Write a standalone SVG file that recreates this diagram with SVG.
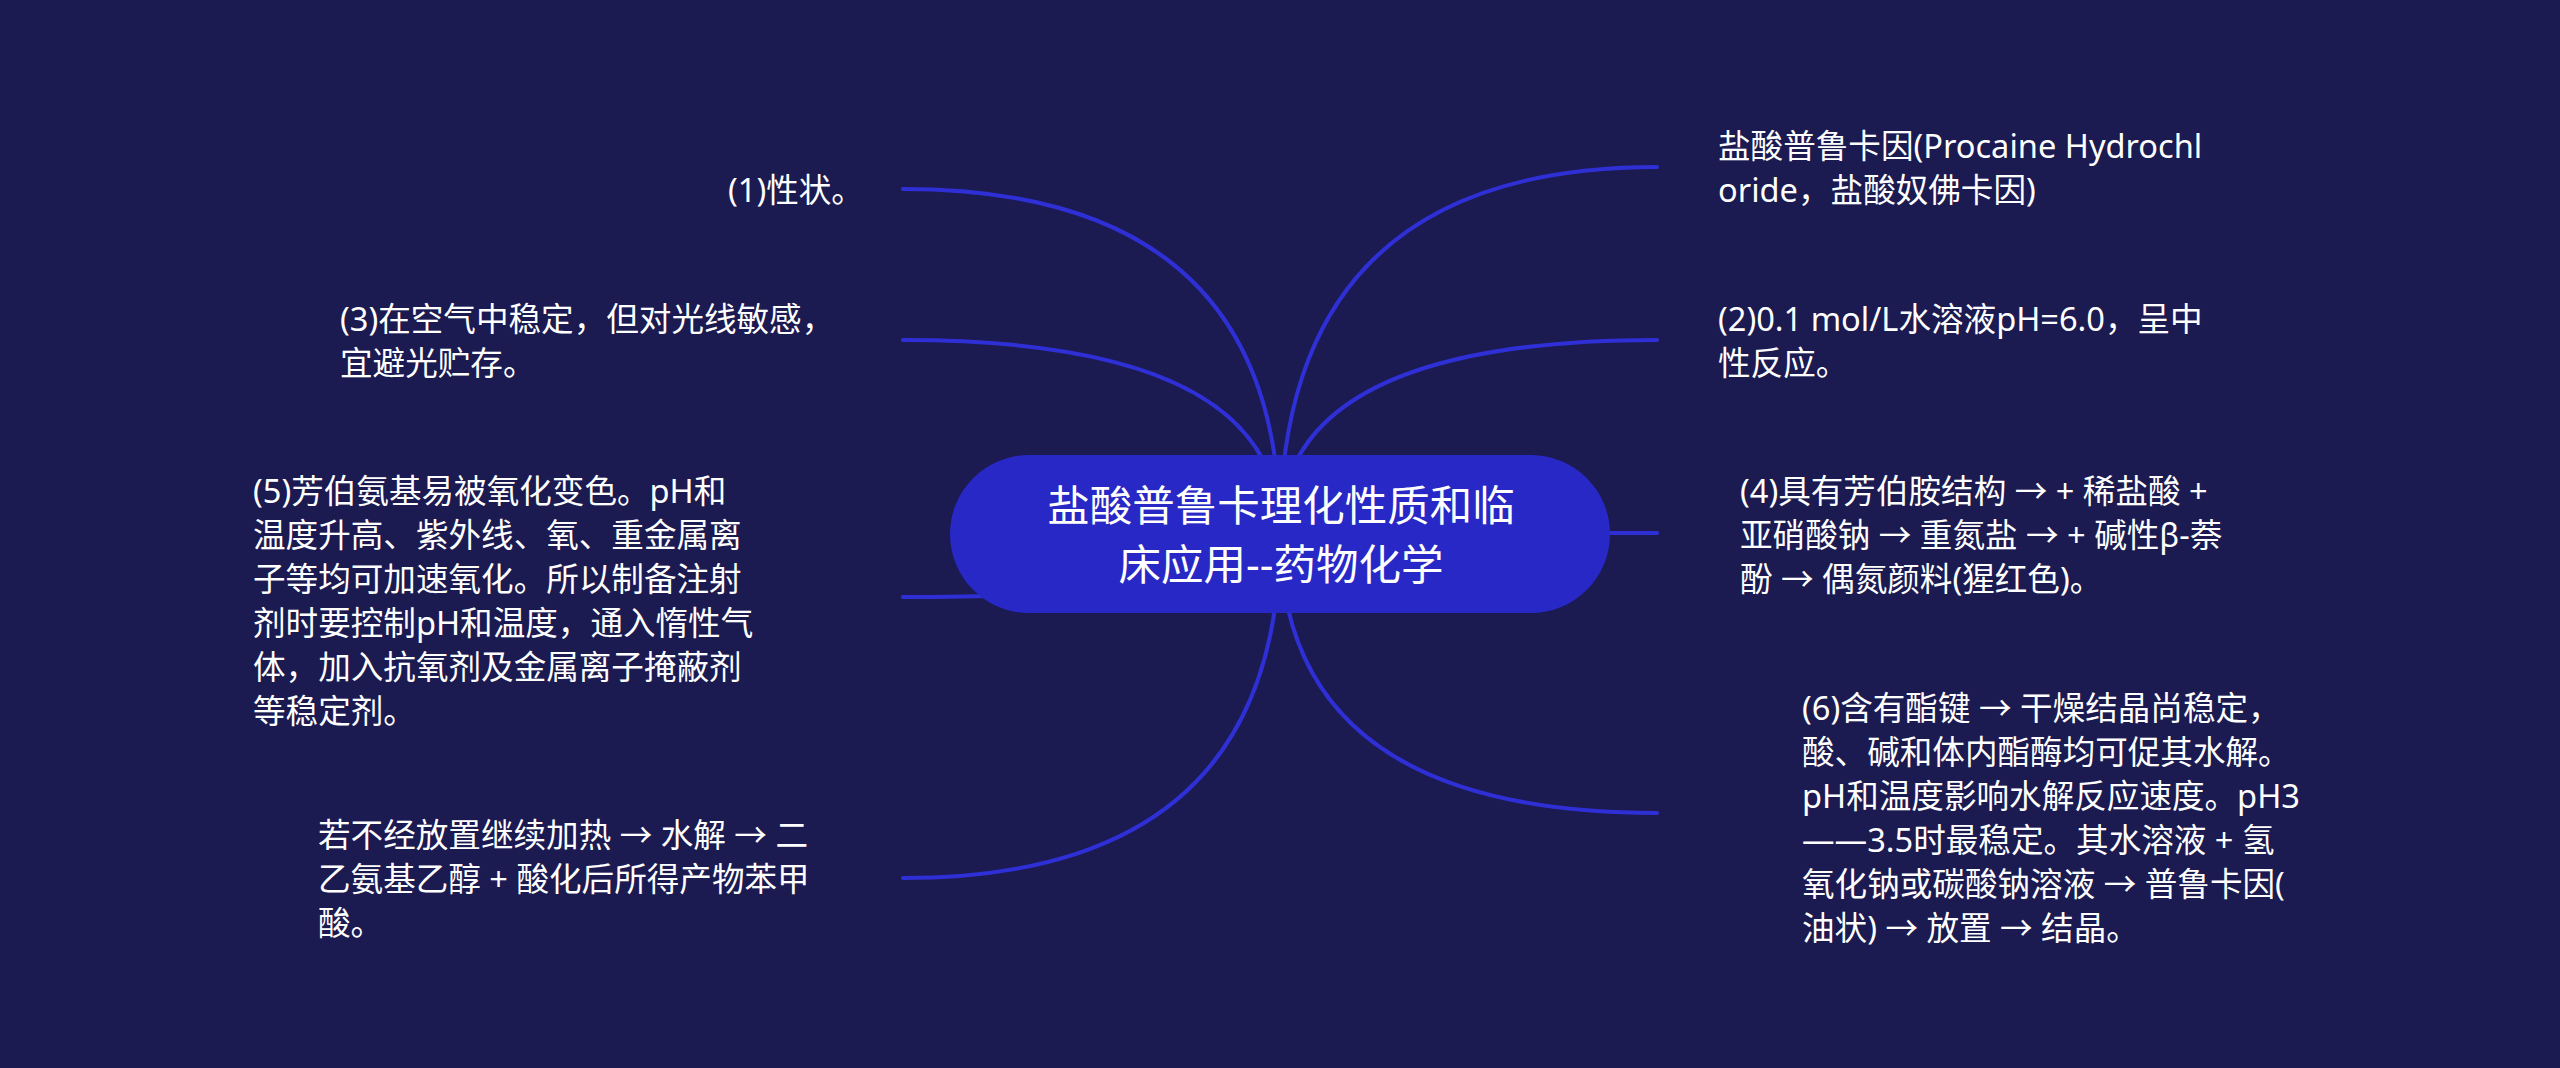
<svg xmlns="http://www.w3.org/2000/svg" width="2560" height="1068" viewBox="0 0 2560 1068">
<style>
.bg{fill:#1b1a51}
.link{fill:none;stroke:#2f2fd6;stroke-width:4;stroke-linecap:round}
.root{fill:#2828c6}
.t{font-family:"Noto Sans","Noto Sans CJK SC",sans-serif;fill:#ffffff;dominant-baseline:central}
.tt{font-size:42.5px;text-anchor:middle}
.tb{font-size:32.6px}
</style>
<rect class="bg" x="0" y="0" width="2560" height="1068"/>
<g id="connectors">
<path class="link" d="M1280 533 Q1280 189 903 189"/>
<path class="link" d="M1280 533 Q1280 340 903 340"/>
<path class="link" d="M1280 533 Q1280 597 903 597"/>
<path class="link" d="M1280 533 Q1280 878 903 878"/>
<path class="link" d="M1280 533 Q1280 167 1657 167"/>
<path class="link" d="M1280 533 Q1280 340 1657 340"/>
<path class="link" d="M1280 533 L1657 533"/>
<path class="link" d="M1280 533 Q1280 813 1657 813"/>
</g>
<g id="root">
<rect class="root" x="950" y="455" width="660" height="158" rx="79" ry="79"/>
<text class="t tt"><tspan x="1281" y="504">盐酸普鲁卡理化性质和临</tspan><tspan x="1281" y="563">床应用--药物化学</tspan></text>
</g>
<g id="node-r1">
<text class="t tb"><tspan x="1718" y="145">盐酸普鲁卡因(Procaine Hydrochl</tspan><tspan x="1718" y="189">oride，盐酸奴佛卡因)</tspan></text>
</g>
<g id="node-r2">
<text class="t tb"><tspan x="1718" y="318">(2)0.1 mol/L水溶液pH=6.0，呈中</tspan><tspan x="1718" y="362">性反应。</tspan></text>
</g>
<g id="node-r3">
<text class="t tb"><tspan x="1740" y="490">(4)具有芳伯胺结构 → + 稀盐酸 +</tspan><tspan x="1740" y="534">亚硝酸钠 → 重氮盐 → + 碱性β-萘</tspan><tspan x="1740" y="578">酚 → 偶氮颜料(猩红色)。</tspan></text>
</g>
<g id="node-r4">
<text class="t tb"><tspan x="1802" y="707">(6)含有酯键 → 干燥结晶尚稳定，</tspan><tspan x="1802" y="751">酸、碱和体内酯酶均可促其水解。</tspan><tspan x="1802" y="795">pH和温度影响水解反应速度。pH3</tspan><tspan x="1802" y="839">——3.5时最稳定。其水溶液 + 氢</tspan><tspan x="1802" y="883">氧化钠或碳酸钠溶液 → 普鲁卡因(</tspan><tspan x="1802" y="927">油状) → 放置 → 结晶。</tspan></text>
</g>
<g id="node-l1">
<text class="t tb"><tspan x="728" y="189">(1)性状。</tspan></text>
</g>
<g id="node-l2">
<text class="t tb"><tspan x="340" y="318">(3)在空气中稳定，但对光线敏感，</tspan><tspan x="340" y="362">宜避光贮存。</tspan></text>
</g>
<g id="node-l3">
<text class="t tb"><tspan x="253" y="490">(5)芳伯氨基易被氧化变色。pH和</tspan><tspan x="253" y="534">温度升高、紫外线、氧、重金属离</tspan><tspan x="253" y="578">子等均可加速氧化。所以制备注射</tspan><tspan x="253" y="622">剂时要控制pH和温度，通入惰性气</tspan><tspan x="253" y="666">体，加入抗氧剂及金属离子掩蔽剂</tspan><tspan x="253" y="710">等稳定剂。</tspan></text>
</g>
<g id="node-l4">
<text class="t tb"><tspan x="318" y="834">若不经放置继续加热 → 水解 → 二</tspan><tspan x="318" y="878">乙氨基乙醇 + 酸化后所得产物苯甲</tspan><tspan x="318" y="922">酸。</tspan></text>
</g>
</svg>
